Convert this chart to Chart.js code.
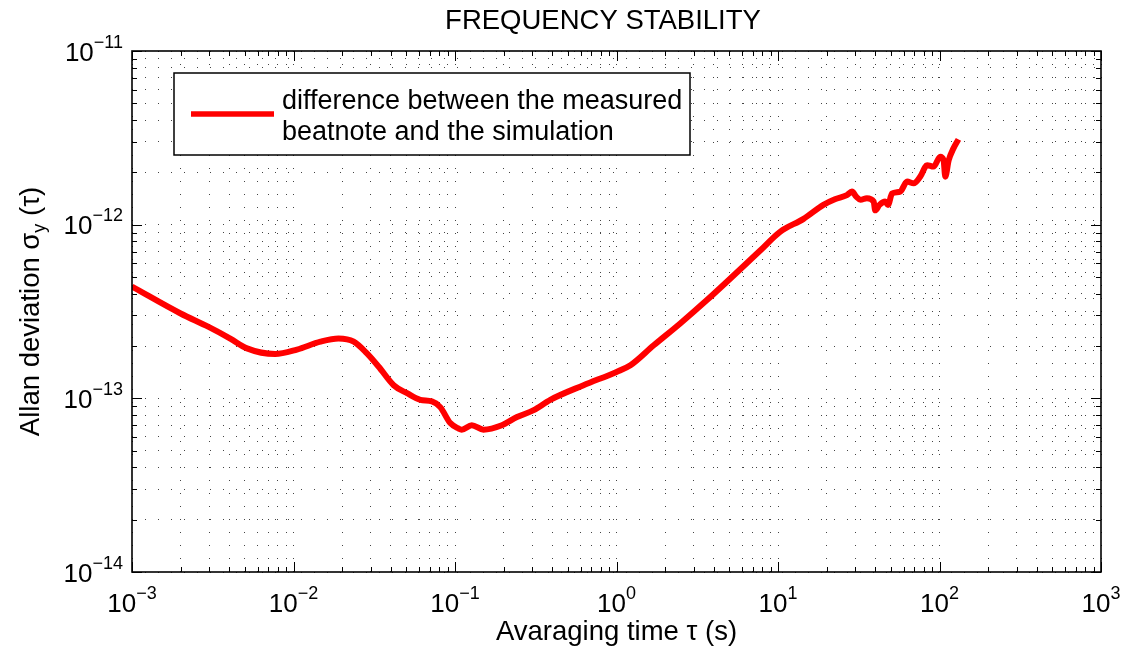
<!DOCTYPE html>
<html lang="en">
<head>
  <meta charset="UTF-8" />
  <title>Frequency Stability</title>
  <script src="https://cdn.jsdelivr.net/npm/chart.js"></script>
  <style>
    body { margin: 0; background: #fff; }
    #wrap { width: 1127px; height: 656px; position: relative; }
  </style>
</head>
<body>
  <div id="wrap"><canvas id="allanChart"></canvas></div>

  <script>
    // averaging time (s) and Allan deviation
    const tau = [
      1.0e-3, 2.0e-3, 2.98e-3, 4.06e-3, 5.15e-3, 7.7e-3, 1.05e-2, 1.47e-2, 1.9e-2, 2.36e-2,
      2.84e-2, 3.37e-2, 4.17e-2, 5.05e-2, 6.1e-2, 7.2e-2, 8.1e-2, 9.35e-2, 0.105, 0.11,
      0.127, 0.15, 0.195, 0.242, 0.307, 0.389, 0.625, 1.0, 1.22, 1.7,
      2.48, 3.63, 7.76, 10.3, 14.4, 19.1, 22.5, 26.7, 28.7, 30.5,
      32.4, 35.5, 39.1, 40.0, 42.5, 46.1, 48.0, 50.8, 57.1, 63.0,
      69.2, 76.0, 83.8, 91.8, 101, 106, 108.6, 114, 122, 131
    ];
    const sigma = [
      4.4e-13, 3.08e-13, 2.58e-13, 2.21e-13, 1.94e-13, 1.8e-13, 1.91e-13, 2.12e-13, 2.21e-13, 2.12e-13,
      1.82e-13, 1.52e-13, 1.19e-13, 1.07e-13, 9.8e-14, 9.6e-14, 8.9e-14, 7.2e-14, 6.7e-14, 6.6e-14,
      7.0e-14, 6.6e-14, 7.0e-14, 7.8e-14, 8.55e-14, 9.8e-14, 1.19e-13, 1.42e-13, 1.55e-13, 2.02e-13,
      2.7e-13, 3.68e-13, 7.1e-13, 9.1e-13, 1.08e-12, 1.3e-12, 1.4e-12, 1.48e-12, 1.55e-12, 1.45e-12,
      1.39e-12, 1.42e-12, 1.36e-12, 1.21e-12, 1.3e-12, 1.36e-12, 1.3e-12, 1.51e-12, 1.55e-12, 1.77e-12,
      1.73e-12, 1.89e-12, 2.2e-12, 2.16e-12, 2.46e-12, 2.35e-12, 1.89e-12, 2.35e-12, 2.75e-12, 3.1e-12
    ];

    // decade exponents used for the tick labels
    const xTickExp = [-3, -2, -1, 0, 1, 2, 3];
    const yTickExp = [-14, -13, -12, -11];

    const titleText = 'FREQUENCY STABILITY';
    const xTitle = 'Avaraging time \u03c4 (s)';
    const yTitle = ['Allan deviation \u03c3', 'y', ' (\u03c4)'];
    const legendLines = ['difference between the measured', 'beatnote and the simulation'];

    const FONT = '"Liberation Sans", Arial, Helvetica, sans-serif';
    const TXT = 27.5, LEG = 27, BIG = 26, SMALL = 18;

    function decadeTicks(exps) {
      const out = [];
      for (let i = 0; i < exps.length; i++) {
        const base = Math.pow(10, exps[i]);
        out.push({ value: base, major: true });
        if (i < exps.length - 1) {
          for (let m = 2; m <= 9; m++) out.push({ value: m * base, major: false });
        }
      }
      return out;
    }

    function expText(e) {
      return e < 0 ? '\u2212' + Math.abs(e) : String(e);
    }

    // "10" with a raised exponent; anchor is left edge of the whole label
    function drawPow(ctx, e, left, baseline) {
      ctx.font = BIG + 'px ' + FONT;
      ctx.fillText('10', left, baseline);
      const w = ctx.measureText('10').width;
      ctx.font = SMALL + 'px ' + FONT;
      ctx.fillText(expText(e), left + w, baseline - 13);
    }
    function powWidth(ctx, e) {
      ctx.font = BIG + 'px ' + FONT;
      const w1 = ctx.measureText('10').width;
      ctx.font = SMALL + 'px ' + FONT;
      return w1 + ctx.measureText(expText(e)).width;
    }

    const matlabDecor = {
      id: 'matlabDecor',
      afterDraw(chart) {
        const { ctx, chartArea: a, scales: { x, y } } = chart;
        ctx.save();
        ctx.strokeStyle = '#000';
        ctx.fillStyle = '#000';

        // inward ticks on all four sides
        ctx.lineWidth = 1;
        ctx.beginPath();
        x.ticks.forEach(t => {
          const px = Math.round(x.getPixelForValue(t.value)) + 0.5;
          const len = t.major ? 10 : 5;
          ctx.moveTo(px, a.bottom); ctx.lineTo(px, a.bottom - len);
          ctx.moveTo(px, a.top); ctx.lineTo(px, a.top + len);
        });
        y.ticks.forEach(t => {
          const py = Math.round(y.getPixelForValue(t.value)) + 0.5;
          const len = t.major ? 10 : 5;
          ctx.moveTo(a.left, py); ctx.lineTo(a.left + len, py);
          ctx.moveTo(a.right, py); ctx.lineTo(a.right - len, py);
        });
        ctx.stroke();

        // axes box
        ctx.lineWidth = 1.6;
        ctx.strokeRect(a.left, a.top, a.right - a.left, a.bottom - a.top);

        // tick labels
        ctx.textAlign = 'left';
        ctx.textBaseline = 'alphabetic';
        xTickExp.forEach(e => {
          const px = x.getPixelForValue(Math.pow(10, e));
          drawPow(ctx, e, px - powWidth(ctx, e) / 2, 612);
        });
        yTickExp.forEach(e => {
          const py = y.getPixelForValue(Math.pow(10, e));
          drawPow(ctx, e, a.left - 9 - powWidth(ctx, e), py + 9.5);
        });

        // title and axis titles
        const cx = (a.left + a.right) / 2;
        ctx.font = TXT + 'px ' + FONT;
        ctx.textAlign = 'center';
        ctx.fillText(titleText, 603, 29);
        ctx.fillText(xTitle, cx, 640);

        ctx.save();
        ctx.translate(39, (a.top + a.bottom) / 2);
        ctx.rotate(-Math.PI / 2);
        ctx.textAlign = 'left';
        ctx.font = TXT + 'px ' + FONT;
        const w0 = ctx.measureText(yTitle[0]).width;
        const w2 = ctx.measureText(yTitle[2]).width;
        ctx.font = SMALL + 'px ' + FONT;
        const w1 = ctx.measureText(yTitle[1]).width;
        const sx = -(w0 + w1 + w2) / 2;
        ctx.font = TXT + 'px ' + FONT;
        ctx.fillText(yTitle[0], sx, 0);
        ctx.font = SMALL + 'px ' + FONT;
        ctx.fillText(yTitle[1], sx + w0, 6);
        ctx.font = TXT + 'px ' + FONT;
        ctx.fillText(yTitle[2], sx + w0 + w1, 0);
        ctx.restore();

        // legend box
        ctx.fillStyle = '#fff';
        ctx.fillRect(174, 73, 516, 82);
        ctx.lineWidth = 1.5;
        ctx.strokeRect(174, 73, 516, 82);
        ctx.strokeStyle = '#ff0000';
        ctx.lineWidth = 5.5;
        ctx.beginPath();
        ctx.moveTo(191, 114); ctx.lineTo(274, 114);
        ctx.stroke();
        ctx.fillStyle = '#000';
        ctx.textAlign = 'left';
        ctx.font = LEG + 'px ' + FONT;
        ctx.fillText(legendLines[0], 282, 109);
        ctx.fillText(legendLines[1], 282, 140);

        ctx.restore();
      }
    };

    const points = tau.map((t, i) => ({ x: t, y: sigma[i] }));

    new Chart(document.getElementById('allanChart'), {
      type: 'line',
      data: {
        datasets: [{
          label: legendLines.join(' '),
          data: points,
          borderColor: '#ff0000',
          borderWidth: 6,
          pointRadius: 0,
          cubicInterpolationMode: 'monotone',
          fill: false
        }]
      },
      options: {
        responsive: true,
        maintainAspectRatio: false,
        animation: false,
        layout: { padding: { left: 132, right: 26, top: 51, bottom: 84 } },
        plugins: { legend: { display: false }, tooltip: { enabled: false }, title: { display: false } },
        scales: {
          x: {
            type: 'logarithmic',
            min: 1e-3, max: 1e3,
            afterBuildTicks: s => { s.ticks = decadeTicks(xTickExp); },
            ticks: { display: false, autoSkip: false },
            grid: { color: '#444', lineWidth: 1, drawTicks: false },
            border: { display: false, dash: [1, 12] }
          },
          y: {
            type: 'logarithmic',
            min: 1e-14, max: 1e-11,
            afterBuildTicks: s => { s.ticks = decadeTicks(yTickExp); },
            ticks: { display: false, autoSkip: false },
            grid: { color: '#444', lineWidth: 1, drawTicks: false },
            border: { display: false, dash: [1, 12] }
          }
        }
      },
      plugins: [matlabDecor]
    });
  </script>
</body>
</html>
